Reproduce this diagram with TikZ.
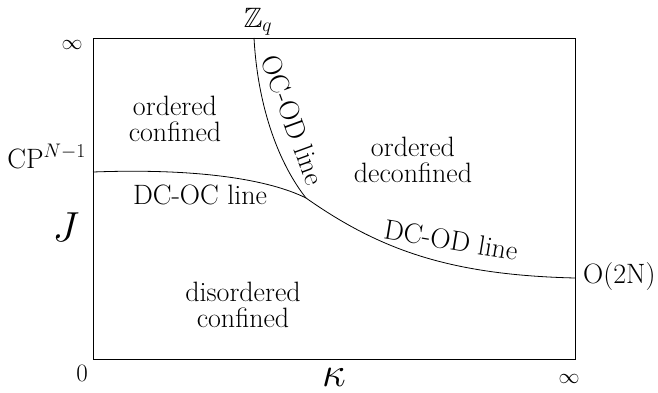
\RequirePackage{fix-cm}
\documentclass[tikz,border=0pt]{standalone}
\usepackage{amssymb}
\begin{document}
\begin{tikzpicture}[x=1pt,y=-1pt,
  txt/.style={font=\fontsize{28}{26}\selectfont, align=center, inner sep=0pt},
  sml/.style={font=\fontsize{21}{24}\selectfont, inner sep=0pt},
  num/.style={font=\fontsize{25}{26}\selectfont, inner sep=0pt},
  big/.style={font=\fontsize{42}{42}\selectfont, inner sep=0pt},
  phase/.style={line width=0.8pt}]
\useasboundingbox (0,0) rectangle (658,393);
\coordinate (bl) at (93,359);
\coordinate (tr) at (575,38);
\draw[line width=0.8pt] (bl) rectangle (tr);
\coordinate (cp) at (93,172);
\coordinate (zq) at (254,38);
\coordinate (tp) at (306,198);
\coordinate (on) at (575,278);
\draw[phase] (cp) .. controls (200,168) and (270,180) .. (tp);
\draw[phase] (zq) .. controls (258,110) and (280,165) .. (tp);
\draw[phase] (tp) .. controls (380,250) and (450,275) .. (on);
\node[txt] (oc) at (175,119) {ordered\\confined};
\node[txt] (od) at (413,160) {ordered\\deconfined};
\node[txt] (dc) at (243,305) {disordered\\confined};
\node[txt] (l1) at (200,195) {DC-OC line};
\node[txt, rotate=-70] (l2) at (293,120) {OC-OD line};
\node[txt, rotate=-9.5] (l3) at (451,240) {DC-OD line};
\node[sml] (inftop) at (72,45) {$\infty$};
\node[txt] (zql) at (258,22) {$\mathbb{Z}_q$};
\node[txt, anchor=base east] (cpl) at (86,168) {CP$^{N-1}$};
\node[txt, anchor=west] (onl) at (583,277) {O(2N)};
\node[big] (J) at (66,227) {$J$};
\node[big] (k) at (334,377) {$\kappa$};
\node[num] (zero) at (82,373) {$0$};
\node[sml] (infb) at (569,379) {$\infty$};
\end{tikzpicture}
\end{document}
